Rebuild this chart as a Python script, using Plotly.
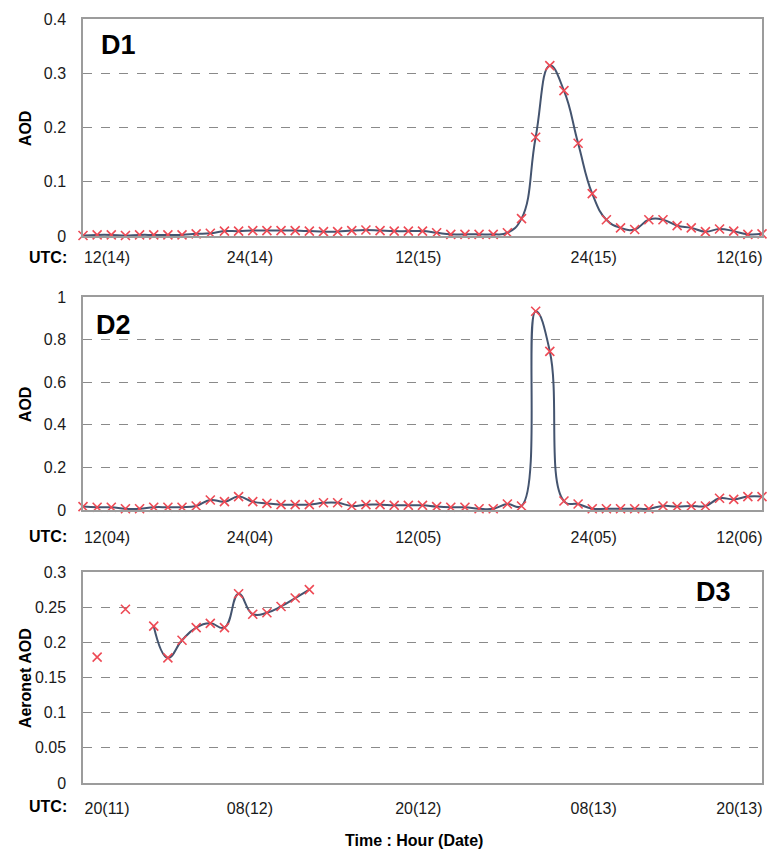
import plotly.graph_objects as go

# ---------------- data ----------------
hours = list(range(49))  # hourly categories

d1_aod = [0.001, 0.002, 0.002, 0.001, 0.002, 0.002, 0.002, 0.002, 0.004, 0.005,
          0.009, 0.009, 0.010, 0.010, 0.010, 0.010, 0.009, 0.008, 0.008, 0.010,
          0.011, 0.010, 0.009, 0.009, 0.009, 0.006, 0.003, 0.003, 0.003, 0.003,
          0.006, 0.032, 0.182, 0.314, 0.268, 0.171, 0.078, 0.030, 0.015, 0.012,
          0.030, 0.030, 0.019, 0.015, 0.008, 0.013, 0.009, 0.003, 0.004]

d2_aod = [0.016, 0.013, 0.013, 0.006, 0.006, 0.013, 0.013, 0.013, 0.019, 0.047,
          0.039, 0.063, 0.039, 0.031, 0.025, 0.025, 0.025, 0.034, 0.034, 0.019,
          0.025, 0.025, 0.022, 0.022, 0.022, 0.016, 0.013, 0.013, 0.006, 0.006,
          0.028, 0.019, 0.933, 0.745, 0.042, 0.028, 0.006, 0.006, 0.006, 0.006,
          0.006, 0.019, 0.016, 0.019, 0.019, 0.055, 0.050, 0.063, 0.063]

d3_aod = [None, 0.179, None, 0.247, None, 0.223, 0.178, 0.203, 0.221, 0.227,
          0.221, 0.269, 0.240, 0.242, 0.251, 0.263, 0.275] + [None] * 32

tick_pos = [1.7, 11.8, 23.7, 36.1, 46.4]
d1_ticks = ["12(14)", "24(14)", "12(15)", "24(15)", "12(16)"]
d2_ticks = ["12(04)", "24(04)", "12(05)", "24(05)", "12(06)"]
d3_ticks = ["20(11)", "08(12)", "20(12)", "08(13)", "20(13)"]

# ---------------- style ----------------
LINE = "#44546f"
MARK = "#ee4a55"
FONT = "Liberation Sans, Arial, sans-serif"
TXT = "#1a1a1a"

fig = go.Figure()

def add_series(y, xa, ya):
    fig.add_trace(go.Scatter(
        x=hours, y=y, xaxis=xa, yaxis=ya, mode="lines+markers",
        line=dict(color=LINE, width=2, shape="spline", smoothing=1.3),
        marker=dict(symbol="x-thin", size=9, line=dict(width=1.6, color=MARK)),
        connectgaps=False, showlegend=False, cliponaxis=False))

add_series(d1_aod, "x", "y")
add_series(d2_aod, "x2", "y2")
add_series(d3_aod, "x3", "y3")

H = 852
T, B = 19, 69
PH = H - T - B

def dom(top_px, bot_px):
    return [(H - B - bot_px) / PH, (H - B - top_px) / PH]

xcommon = dict(range=[0, 48], showgrid=False, zeroline=False, showline=True,
               mirror=True, linecolor="#9c9c9c", linewidth=1.5, ticks="",
               tickvals=tick_pos, tickfont=dict(family=FONT, size=16, color=TXT))
ycommon = dict(showgrid=True, gridcolor="#8a8a8a", griddash="dash", gridwidth=1,
               zeroline=False, showline=True, mirror=True, linecolor="#9c9c9c",
               linewidth=1.5, ticks="", tickfont=dict(family=FONT, size=16, color=TXT),
               ticklabelstandoff=12)

fig.update_layout(
    width=770, height=H,
    margin=dict(l=83, r=6, t=T, b=B),
    paper_bgcolor="white", plot_bgcolor="white",
    xaxis=dict(**xcommon, ticktext=d1_ticks, anchor="y", ticklabelstandoff=6),
    xaxis2=dict(**xcommon, ticktext=d2_ticks, anchor="y2", ticklabelstandoff=12),
    xaxis3=dict(**xcommon, ticktext=d3_ticks, anchor="y3", ticklabelstandoff=10),
    yaxis=dict(**ycommon, range=[0, 0.4], dtick=0.1, domain=dom(19, 236), anchor="x"),
    yaxis2=dict(**ycommon, range=[0, 1], dtick=0.2, domain=dom(297, 510), anchor="x2"),
    yaxis3=dict(**ycommon, range=[0, 0.3], dtick=0.05, domain=dom(572, 783), anchor="x3"),
)

ann = []
def text(x, y, s, size=16, bold=True, angle=0, xanchor="center"):
    ann.append(dict(x=x, y=y, xref="paper", yref="paper", text=("<b>%s</b>" % s) if bold else s,
                    showarrow=False, textangle=angle, xanchor=xanchor, yanchor="middle",
                    font=dict(family=FONT, size=size, color="#000")))

def px(xp, yp):
    return (xp - 83) / (770 - 83 - 6), (H - B - yp) / PH

# panel labels
for (xp, yp, s) in [(99, 45, "D1"), (94, 325, "D2"), (696, 592, "D3")]:
    x, y = px(xp, yp)
    text(x, y, s, size=27, xanchor="left")
# UTC labels
for yp in [257, 536, 807]:
    x, y = px(48, yp)
    text(x, y, "UTC:", size=16)
# y titles
for (yp, s) in [(128, "AOD"), (404, "AOD"), (678, "Aeronet AOD")]:
    x, y = px(25, yp)
    text(x, y, s, size=16, angle=-90)
x, y = px(415, 840)
text(x, y, "Time : Hour (Date)", size=16)

fig.update_layout(annotations=ann)
fig.write_html("out.html")
